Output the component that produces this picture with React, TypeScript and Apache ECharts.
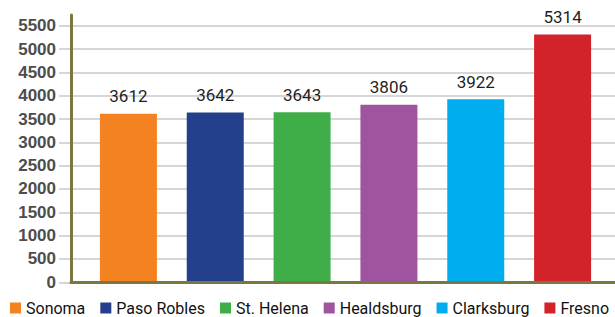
import React, { useEffect, useRef } from "react";
import * as echarts from "echarts";

const categories = ["Sonoma", "Paso Robles", "St. Helena", "Healdsburg", "Clarksburg", "Fresno"];
const values = [3612, 3642, 3643, 3806, 3922, 5314];
const colors = ["#f58220", "#243f8c", "#3fae49", "#a054a0", "#00aeef", "#d2232a"];
const yMin = 0;
const yMax = 5500;
const yInterval = 500;

const narrow = "Roboto, 'Liberation Sans Narrow', sans-serif";

export default function App() {
  const ref = useRef<HTMLDivElement>(null);
  useEffect(() => {
    if (!ref.current) return;
    const chart = echarts.init(ref.current, undefined, { renderer: "svg" });
    const top = 25.7;
    const bottom = 34.7;
    const series = categories.map((name, i) => ({
      name,
      type: "bar",
      xAxisIndex: 2,
      yAxisIndex: 2,
      stack: "all",
      barWidth: 57,
      itemStyle: { color: colors[i] },
      label: {
        show: true,
        position: "top",
        distance: 9,
        color: "#1f1f1f",
        fontFamily: narrow,
        fontSize: 17,
      },
      data: categories.map((_, j) => (j === i ? values[i] : "-")),
    }));
    chart.setOption({
      animation: false,
      backgroundColor: "#ffffff",
      grid: [
        { left: 71, right: 0, top: 15, bottom },
        { left: 71, right: 0, top, bottom },
        { left: 85, right: 9, top, bottom },
      ],
      xAxis: [
        {
          gridIndex: 0,
          type: "category",
          data: categories,
          z: 10,
          axisLine: { show: true, lineStyle: { color: "#787840", width: 3 } },
          axisTick: { show: false },
          axisLabel: { show: false },
        },
        { gridIndex: 1, type: "category", data: categories, show: false },
        { gridIndex: 2, type: "category", data: categories, show: false },
      ],
      yAxis: [
        {
          gridIndex: 0,
          type: "value",
          min: yMin,
          max: yMax,
          z: 10,
          axisLine: { show: true, lineStyle: { color: "#787840", width: 3 } },
          axisTick: { show: false },
          axisLabel: { show: false },
          splitLine: { show: false },
        },
        {
          gridIndex: 1,
          type: "value",
          min: yMin,
          max: yMax,
          interval: yInterval,
          axisLine: { show: false },
          axisTick: { show: true, length: 12, lineStyle: { color: "#c8c8c8", width: 1.5 } },
          axisLabel: {
            margin: 15,
            color: "#4d4d4d",
            fontWeight: "bold",
            fontSize: 17,
            fontFamily: "'Liberation Sans', Arial, sans-serif",
            formatter: (v: number) => String(v),
          },
          splitLine: { show: true, lineStyle: { color: "#c8c8c8", width: 1.5 } },
        },
        { gridIndex: 2, type: "value", min: yMin, max: yMax, show: false },
      ],
      legend: {
        data: categories,
        left: 10,
        top: 300,
        padding: 0,
        icon: "rect",
        itemWidth: 11,
        itemHeight: 11,
        itemGap: 15,
        textStyle: { color: "#111111", fontFamily: narrow, fontSize: 16 },
      },
      series,
    });
    return () => chart.dispose();
  }, []);
  return (
    <div
      ref={ref}
      style={{ position: "fixed", left: 0, top: 0, width: 615, height: 317, background: "#fff" }}
    />
  );
}
